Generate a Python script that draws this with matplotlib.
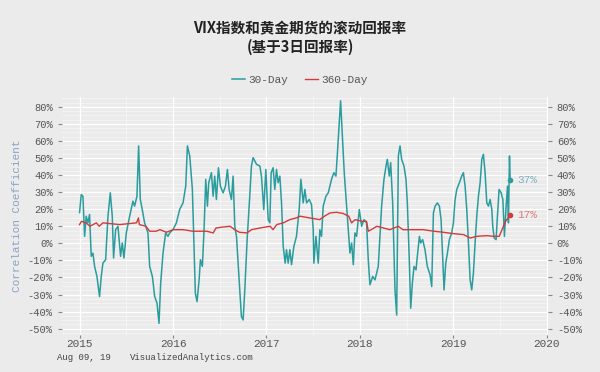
import matplotlib
matplotlib.use("Agg")
import matplotlib.pyplot as plt
from matplotlib.ticker import MultipleLocator, FuncFormatter

# 30-day rolling correlation (decimal year, percent)
d30_x = [2015.000, 2015.018, 2015.036, 2015.054, 2015.071, 2015.089, 2015.107, 2015.125, 2015.143, 2015.161,
         2015.186, 2015.214, 2015.232, 2015.250, 2015.279, 2015.304, 2015.329, 2015.350, 2015.364, 2015.386,
         2015.411, 2015.439, 2015.457, 2015.475, 2015.500, 2015.536, 2015.571, 2015.589, 2015.614, 2015.632,
         2015.650, 2015.671, 2015.696, 2015.732, 2015.750, 2015.779, 2015.804, 2015.829, 2015.850, 2015.868,
         2015.893, 2015.921, 2015.946, 2015.964, 2016.000, 2016.036, 2016.071, 2016.107, 2016.136, 2016.154,
         2016.179, 2016.207, 2016.225, 2016.239, 2016.257, 2016.279, 2016.293, 2016.314, 2016.332, 2016.350,
         2016.368, 2016.382, 2016.411, 2016.429, 2016.446, 2016.464, 2016.486, 2016.507, 2016.536, 2016.561,
         2016.582, 2016.600, 2016.625, 2016.643, 2016.661, 2016.679, 2016.696, 2016.714, 2016.732, 2016.750,
         2016.768, 2016.793, 2016.821, 2016.839, 2016.857, 2016.893, 2016.929, 2016.946, 2016.971, 2016.993,
         2017.018, 2017.036, 2017.050, 2017.071, 2017.089, 2017.107, 2017.125, 2017.143, 2017.161, 2017.179,
         2017.200, 2017.214, 2017.232, 2017.250, 2017.268, 2017.293, 2017.321, 2017.350, 2017.368, 2017.393,
         2017.411, 2017.429, 2017.457, 2017.482, 2017.500, 2017.507, 2017.529, 2017.554, 2017.571, 2017.589,
         2017.607, 2017.636, 2017.661, 2017.696, 2017.721, 2017.743, 2017.757, 2017.779, 2017.793, 2017.814,
         2017.832, 2017.857, 2017.875, 2017.893, 2017.911, 2017.929, 2017.946, 2017.964, 2017.993, 2018.018,
         2018.043, 2018.071, 2018.089, 2018.107, 2018.136, 2018.161, 2018.196, 2018.214, 2018.232, 2018.257,
         2018.279, 2018.293, 2018.314, 2018.329, 2018.350, 2018.364, 2018.375, 2018.393, 2018.411, 2018.429,
         2018.446, 2018.471, 2018.493, 2018.507, 2018.529, 2018.543, 2018.561, 2018.579, 2018.600, 2018.614,
         2018.636, 2018.650, 2018.671, 2018.696, 2018.721, 2018.750, 2018.768, 2018.786, 2018.804, 2018.829,
         2018.850, 2018.868, 2018.886, 2018.900, 2018.918, 2018.936, 2018.957, 2018.982, 2019.000, 2019.018,
         2019.036, 2019.064, 2019.089, 2019.107, 2019.125, 2019.143, 2019.161, 2019.179, 2019.196, 2019.214,
         2019.232, 2019.250, 2019.268, 2019.286, 2019.304, 2019.321, 2019.339, 2019.357, 2019.375, 2019.393,
         2019.411, 2019.421, 2019.436, 2019.457, 2019.471, 2019.489, 2019.511, 2019.529, 2019.546, 2019.564,
         2019.579, 2019.589, 2019.600, 2019.607]
d30_y = [18, 28.6, 27.6, 4.1, 15.9, 12.0, 16.9, -7.6, -5.7, -13.5,
         -19.4, -31.2, -19.4, -11.6, -9.6, 15.9, 29.6, 15.9, -8.6, 8.0,
         10.0, -7.6, 0.2, -8.6, 6.1, 15.9, 24.7, 21.8, 27.6, 57.1,
         25.7, 19.8, 12.0, 6.1, -13.5, -19.4, -31.2, -35.1, -46.9, -23.3,
         -5.7, 6.1, 4.1, 6.1, 8.0, 12.0, 19.8, 23.7, 33.5, 57.1,
         51.2, 31.6, -3.7, -29.2, -34.1, -21.4, -9.6, -13.5, 8.0, 37.5,
         21.8, 35.5, 41.4, 27.6, 39.4, 25.7, 44.3, 33.5, 29.6, 33.5,
         43.3, 31.6, 25.7, 39.4, 10.0, 4.1, -11.6, -27.3, -42.9, -44.9,
         -27.3, 2.2, 27.6, 45.3, 50.2, 46.3, 45.3, 39.4, 19.8, 43.3,
         13.9, 12.0, 41.4, 44.3, 31.6, 43.3, 35.5, 39.4, 23.7, -1.8,
         -11.6, -3.7, -11.6, -3.7, -12.5, -1.8, 4.1, 19.8, 37.5, 23.7,
         31.6, 23.7, 25.7, 22.7, 8.0, -11.6, 4.1, -11.6, 8.0, 4.1,
         21.8, 27.6, 29.6, 37.5, 41.4, 39.4, 51.2, 70.8, 83.5, 61.0,
         41.4, 21.8, 8.0, -5.7, 0.2, -12.5, 6.1, 4.1, 19.8, 10.0,
         13.9, 12.0, -9.6, -24.3, -19.4, -21.4, -13.5, 4.1, 21.8, 37.5,
         45.3, 49.2, 39.4, 47.3, 23.7, -3.7, -27.3, -42.0, 51.2, 57.1,
         49.2, 45.3, 37.5, 23.7, -11.6, -38.0, -23.3, -13.5, -15.5, -7.6,
         4.1, 0.2, 2.2, -3.7, -13.5, -18.4, -25.3, 17.8, 21.8, 23.7,
         21.8, 13.9, -9.6, -27.3, -11.6, -5.7, 2.2, 6.1, 12.0, 25.7,
         31.6, 35.5, 39.4, 41.4, 33.5, 19.8, 0.2, -21.4, -27.3, -17.5,
         0.2, 15.9, 27.6, 35.5, 49.2, 52.2, 41.4, 23.7, 21.8, 25.7,
         19.8, 10.0, 3.1, 2.2, 15.9, 31.6, 29.6, 25.7, 4.1, 21.8,
         33.5, 12.0, 51.2, 37.4]

# 360-day rolling correlation
d360_x = [2015.00, 2015.02, 2015.07, 2015.11, 2015.18, 2015.21, 2015.25, 2015.32, 2015.43, 2015.50,
          2015.61, 2015.63, 2015.64, 2015.71, 2015.75, 2015.82, 2015.86, 2015.93, 2016.00, 2016.11,
          2016.21, 2016.36, 2016.43, 2016.46, 2016.54, 2016.61, 2016.66, 2016.71, 2016.79, 2016.84,
          2016.93, 2017.04, 2017.07, 2017.11, 2017.18, 2017.25, 2017.32, 2017.36, 2017.46, 2017.57,
          2017.62, 2017.68, 2017.75, 2017.82, 2017.88, 2017.91, 2017.95, 2018.02, 2018.07, 2018.09,
          2018.12, 2018.18, 2018.25, 2018.32, 2018.41, 2018.46, 2018.57, 2018.68, 2018.79, 2018.89,
          2019.00, 2019.11, 2019.18, 2019.25, 2019.36, 2019.43, 2019.49, 2019.52, 2019.55, 2019.57,
          2019.59, 2019.607]
d360_y = [11.0, 12.9, 12.0, 10.0, 12.0, 10.0, 12.0, 11.6, 11.0, 11.4,
          12.0, 14.9, 11.0, 10.0, 7.1, 7.1, 8.0, 6.5, 8.0, 8.0,
          7.1, 7.1, 6.1, 9.0, 9.6, 10.0, 8.0, 6.5, 6.1, 8.0,
          9.0, 10.0, 8.0, 11.0, 12.0, 13.9, 14.9, 15.9, 14.9, 13.9,
          15.9, 17.8, 18.2, 17.5, 15.9, 12.0, 13.9, 12.9, 12.9, 7.1,
          8.0, 10.0, 9.0, 8.0, 10.0, 8.0, 8.0, 8.0, 7.1, 6.5,
          5.7, 5.1, 3.1, 4.1, 4.5, 4.1, 4.1, 8.0, 12.0, 13.9,
          14.9, 16.8]

year_ticks = [2015, 2016, 2017, 2018, 2019, 2020]

bg = '#ebebeb'
c30 = '#2a9c9e'
c360 = '#d33a3a'
mono = 'Liberation Mono'

plt.rcParams['font.family'] = ['Noto Sans CJK SC', 'DejaVu Sans']

fig = plt.figure(figsize=(6, 3.72), dpi=100, facecolor=bg)
ax = fig.add_axes([0.103, 0.0995, 0.81, 0.640], facecolor=bg)

ax.plot(d30_x, d30_y, color=c30, lw=1.1, label='30-Day', zorder=3)
ax.plot(d360_x, d360_y, color=c360, lw=1.0, label='360-Day', zorder=4)
ax.plot(d30_x[-1], d30_y[-1], 'o', color=c30, ms=3, zorder=5)
ax.plot(d360_x[-1], d360_y[-1], 'o', color=c360, ms=3, zorder=5)
ax.text(d30_x[-1] + 0.08, d30_y[-1], f"{round(d30_y[-1])}%", color='#7fb0c0',
        fontsize=8, family=mono, va='center')
ax.text(d360_x[-1] + 0.08, d360_y[-1], f"{round(d360_y[-1])}%", color='#e07a7a',
        fontsize=8, family=mono, va='center')

ax.set_xlim(2014.81, 2020.01)
ax.set_ylim(-53.7, 85.8)
ax.set_xticks(year_ticks)
ax.set_xticklabels([str(y) for y in year_ticks])
ax.xaxis.set_minor_locator(MultipleLocator(0.5))
ax.yaxis.set_major_locator(MultipleLocator(10))
ax.yaxis.set_minor_locator(MultipleLocator(2.5))
pct = FuncFormatter(lambda v, p: f"{v:.0f}%")
ax.yaxis.set_major_formatter(pct)

ax.grid(which='major', color='white', lw=0.9)
ax.grid(which='minor', color='white', lw=0.4, alpha=0.8)
ax.set_axisbelow(True)
for s in ax.spines.values():
    s.set_visible(False)

ax.tick_params(which='major', length=3, color='#888888', labelcolor='#555555', labelsize=7.5)
ax.tick_params(which='minor', length=0)
ax.tick_params(axis='x', length=2, labelsize=8, pad=1)
for lab in ax.get_xticklabels() + ax.get_yticklabels():
    lab.set_family(mono)

ax2 = ax.twinx()
ax2.set_ylim(ax.get_ylim())
ax2.yaxis.set_major_locator(MultipleLocator(10))
ax2.yaxis.set_major_formatter(pct)
ax2.tick_params(length=3, color='#888888', labelcolor='#555555', labelsize=7.5)
for lab in ax2.get_yticklabels():
    lab.set_family(mono)
for s in ax2.spines.values():
    s.set_visible(False)

ax.set_ylabel('Correlation Coefficient', family=mono, fontsize=8, color='#8aa4c4', labelpad=4)

fig.text(0.5, 0.925, 'VIX指数和黄金期货的滚动回报率', ha='center', va='center',
         fontsize=10.5, fontweight='bold', color='#222222')
fig.text(0.5, 0.874, '(基于3日回报率)', ha='center', va='center',
         fontsize=10.5, fontweight='bold', color='#222222')

leg = ax.legend(loc='center', bbox_to_anchor=(0.5, 0.785), bbox_transform=fig.transFigure,
                ncol=2, frameon=False, handlelength=1.2, handletextpad=0.3, columnspacing=1.5,
                prop={'family': mono, 'size': 8})
for t in leg.get_texts():
    t.set_color('#555555')

fig.text(0.095, 0.040, 'Aug 09, 19', family=mono, fontsize=6.5, color='#444444', va='center')
fig.text(0.217, 0.040, 'VisualizedAnalytics.com', family=mono, fontsize=6.5, color='#444444', va='center')

fig.savefig('out.png', dpi=100, facecolor=bg)
